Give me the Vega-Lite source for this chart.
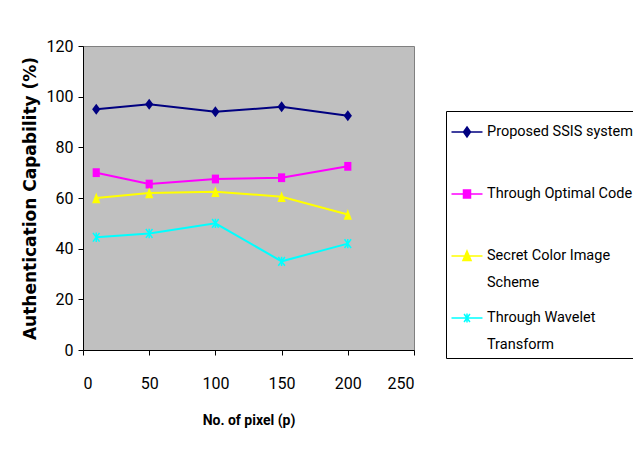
{
  "$schema": "https://vega.github.io/schema/vega-lite/v6.json",
  "width": 331,
  "height": 304,
  "autosize": {"type": "none"},
  "padding": {"left": 83, "top": 46, "right": 219, "bottom": 104},
  "background": "white",
  "config": {
    "view": {"fill": "#c0c0c0", "stroke": "#808080", "strokeWidth": 1},
    "font": "Roboto",
    "axis": {
      "grid": false,
      "domainColor": "#000000",
      "tickColor": "#000000",
      "tickSize": 5,
      "labelColor": "#000000",
      "labelFont": "Roboto",
      "labelFontSize": 16,
      "titleColor": "#000000",
      "titleFontWeight": "bold"
    }
  },
  "datasets": {
    "rates": [
      {"s": "Proposed SSIS system", "p": 10, "v": 95},
      {"s": "Proposed SSIS system", "p": 50, "v": 97},
      {"s": "Proposed SSIS system", "p": 100, "v": 94},
      {"s": "Proposed SSIS system", "p": 150, "v": 96},
      {"s": "Proposed SSIS system", "p": 200, "v": 92.5},
      {"s": "Through Optimal Code", "p": 10, "v": 70},
      {"s": "Through Optimal Code", "p": 50, "v": 65.5},
      {"s": "Through Optimal Code", "p": 100, "v": 67.5},
      {"s": "Through Optimal Code", "p": 150, "v": 68},
      {"s": "Through Optimal Code", "p": 200, "v": 72.5},
      {"s": "Secret Color Image Scheme", "p": 10, "v": 60},
      {"s": "Secret Color Image Scheme", "p": 50, "v": 62},
      {"s": "Secret Color Image Scheme", "p": 100, "v": 62.5},
      {"s": "Secret Color Image Scheme", "p": 150, "v": 60.5},
      {"s": "Secret Color Image Scheme", "p": 200, "v": 53.5},
      {"s": "Through Wavelet Transform", "p": 10, "v": 44.5},
      {"s": "Through Wavelet Transform", "p": 50, "v": 46},
      {"s": "Through Wavelet Transform", "p": 100, "v": 50},
      {"s": "Through Wavelet Transform", "p": 150, "v": 35},
      {"s": "Through Wavelet Transform", "p": 200, "v": 42}
    ]
  },
  "data": {"name": "rates"},
  "encoding": {
    "x": {
      "field": "p",
      "type": "quantitative",
      "scale": {"domain": [0, 250], "nice": false, "zero": false},
      "axis": {
        "values": [0, 50, 100, 150, 200, 250],
        "title": "No. of pixel (p)",
        "labelPadding": 20,
        "titlePadding": 22,
        "titleFont": "Roboto",
        "titleFontSize": 14
      }
    },
    "y": {
      "field": "v",
      "type": "quantitative",
      "scale": {"domain": [0, 120], "nice": false},
      "axis": {
        "values": [0, 20, 40, 60, 80, 100, 120],
        "title": "Authentication Capability (%)",
        "labelPadding": 5,
        "titleFont": "DejaVu Sans",
        "titleFontSize": 17,
        "titlePadding": 7
      }
    }
  },
  "layer": [
    {
      "mark": {"type": "line", "strokeWidth": 2},
      "encoding": {
        "color": {
          "field": "s",
          "type": "nominal",
          "scale": {
            "domain": ["Proposed SSIS system", "Through Optimal Code", "Secret Color Image Scheme", "Through Wavelet Transform"],
            "range": ["#000080", "#ff00ff", "#ffff00", "#00ffff"]
          },
          "legend": {
            "title": null,
            "orient": "none",
            "legendX": 363,
            "legendY": 65,
            "padding": 6,
            "strokeColor": "#000000",
            "fillColor": "#ffffff",
            "symbolSize": 784,
            "symbolStrokeWidth": 1.5,
            "labelFont": "Roboto",
            "labelFontSize": 14.5,
            "labelColor": "#000000",
            "labelOffset": 5,
            "labelLimit": 400,
            "rowPadding": 13,
            "labelExpr": "datum.label === 'Secret Color Image Scheme' ? ['Secret Color Image', 'Scheme'] : datum.label === 'Through Wavelet Transform' ? ['Through Wavelet', 'Transform'] : [datum.label, '']",
            "encode": {
              "symbols": {
                "update": {
                  "shape": {"signal": "datum.value === 'Proposed SSIS system' ? 'M-1.107,0H1.107M0,-0.36L0.25,0L0,0.36L-0.25,0Z' : datum.value === 'Through Optimal Code' ? 'M-1.107,0H1.107M-0.25,-0.29H0.25V0.29H-0.25Z' : datum.value === 'Secret Color Image Scheme' ? 'M-1.107,0H1.107M0,-0.36L0.29,0.32H-0.29Z' : 'M-1.107,0H1.107M-0.21,-0.29L0.21,0.29M0.21,-0.29L-0.21,0.29M0,-0.32V0.32'"},
                  "fill": {"scale": "color", "field": "value"},
                  "stroke": {"scale": "color", "field": "value"},
                  "strokeWidth": {"value": 1.5},
                  "opacity": {"value": 1}
                }
              },
              "labels": {
                "update": {
                  "lineHeight": {"value": 27}
                }
              }
            }
          }
        }
      }
    },
    {
      "transform": [{"filter": "datum.s === 'Proposed SSIS system'"}],
      "mark": {"type": "point", "filled": true, "opacity": 1, "size": 121, "fill": "#000080", "shape": "M0,-1L0.75,0L0,1L-0.75,0Z"}
    },
    {
      "transform": [{"filter": "datum.s === 'Through Optimal Code'"}],
      "mark": {"type": "point", "filled": true, "opacity": 1, "size": 121, "fill": "#ff00ff", "shape": "M-0.65,-0.8H0.65V0.8H-0.65Z"}
    },
    {
      "transform": [{"filter": "datum.s === 'Secret Color Image Scheme'"}],
      "mark": {"type": "point", "filled": true, "opacity": 1, "size": 121, "fill": "#ffff00", "shape": "M0,-1L0.75,0.95H-0.75Z"}
    },
    {
      "transform": [{"filter": "datum.s === 'Through Wavelet Transform'"}],
      "mark": {"type": "point", "filled": false, "opacity": 1, "size": 121, "stroke": "#00ffff", "strokeWidth": 1.5, "shape": "M-0.6,-0.8L0.6,0.8M0.6,-0.8L-0.6,0.8M0,-0.85V0.85"}
    }
  ]
}
